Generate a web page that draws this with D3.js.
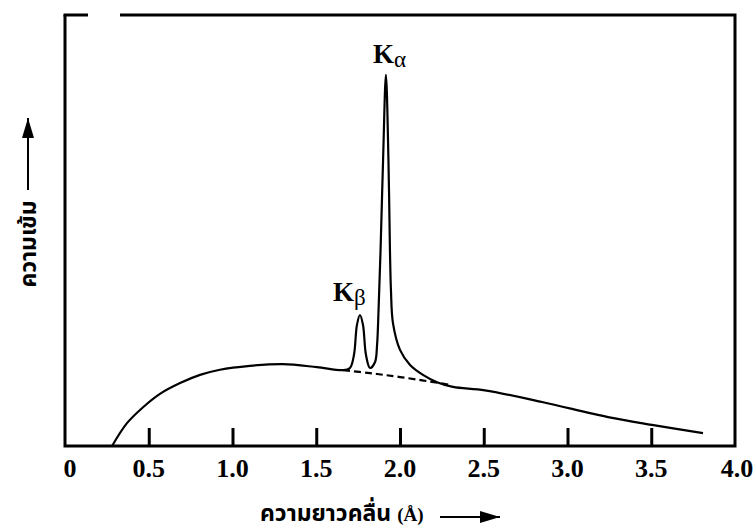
<!DOCTYPE html>
<html>
<head>
<meta charset="utf-8">
<script src="https://cdn.jsdelivr.net/npm/d3@7"></script>
<style>
  body { margin: 0; background: #fff; }
  svg { display: block; }
  .tick-label { font-family: "Liberation Serif", "Times New Roman", serif; font-weight: bold; font-size: 26px; }
  .peak-label { font-family: "Liberation Serif", "Times New Roman", serif; font-weight: bold; }
  .thai { font-family: "Noto Sans Thai", "Loma", "Garuda", "Noto Sans", sans-serif; font-weight: bold; font-size: 23px; }
</style>
</head>
<body>
<svg id="chart" width="755" height="530"></svg>
<script>
// wavelength (Angstrom) and relative intensity
var wavelength = [0.281, 0.370, 0.466, 0.567, 0.687, 0.806, 0.925, 1.104, 1.301, 1.504,
                  1.660, 1.701, 1.725, 1.743, 1.761, 1.779, 1.797, 1.821, 1.851, 1.863,
                  1.872, 1.884, 1.899, 1.916, 1.931, 1.940, 1.946, 1.958, 2.000, 2.060,
                  2.137, 2.221, 2.316, 2.507, 2.848, 3.242, 3.504, 3.809];
var intensity = [0, 5.3, 9.0, 12.1, 14.6, 16.5, 17.7, 18.6, 19.0, 18.3,
                 17.6, 18.1, 21.1, 28.1, 30.4, 28.1, 21.1, 18.1, 19.5, 23.4,
                 31.6, 45.5, 66.4, 86.1, 66.4, 45.5, 36.2, 28.5, 22.3, 18.8,
                 16.5, 14.8, 13.7, 12.9, 10.2, 6.7, 4.9, 3.0];

// continuous background under the peaks (dashed)
var bgWavelength = [1.660, 1.821, 2.000, 2.300];
var bgIntensity = [17.6, 16.9, 16.0, 14.2];

var tickValues = [0, 0.5, 1.0, 1.5, 2.0, 2.5, 3.0, 3.5, 4.0];
var tickLabels = ["0", "0.5", "1.0", "1.5", "2.0", "2.5", "3.0", "3.5", "4.0"];

var peaks = [
  { name: "K", sub: "\u03b1", wl: 1.916, val: 86.1 },
  { name: "K", sub: "\u03b2", wl: 1.761, val: 30.4 }
];

var svg = d3.select("#chart");
var pLeft = 65, pRight = 735, pTop = 15, pBottom = 446;

var x = d3.scaleLinear().domain([0, 4]).range([pLeft, pRight]);
var y = d3.scaleLinear().domain([0, (pBottom - pTop) / 4.31]).range([pBottom, pTop]);

var frame = svg.append("g").attr("stroke", "#000").attr("stroke-width", 3).attr("fill", "none");
frame.append("path").attr("d", "M" + pLeft + "," + pTop + "V" + pBottom + "H" + pRight + "V" + pTop + "H120");
frame.append("path").attr("d", "M" + (pLeft - 1.5) + "," + pTop + "H88");

// inner ticks
var xAxis = d3.axisTop(x).tickValues(tickValues.slice(1, -1)).tickSize(18).tickFormat("");
var ax = svg.append("g").attr("transform", "translate(0," + pBottom + ")").call(xAxis);
ax.select(".domain").remove();
ax.selectAll(".tick line").attr("stroke", "#000").attr("stroke-width", 3);

svg.append("g").selectAll("text").data(tickValues).join("text")
  .attr("class", "tick-label")
  .attr("x", function(d) { return x(d) + (d === 0 ? 5 : d === 4 ? 2 : 0); })
  .attr("y", 477)
  .attr("text-anchor", "middle")
  .text(function(d, i) { return tickLabels[i]; });

var pts = wavelength.map(function(w, i) { return [w, intensity[i]]; });
var line = d3.line()
  .x(function(d) { return x(d[0]); })
  .y(function(d) { return y(d[1]); })
  .curve(d3.curveCatmullRom.alpha(0.5));

svg.append("path").datum(pts)
  .attr("d", line)
  .attr("fill", "none").attr("stroke", "#000").attr("stroke-width", 2.2);

var bg = bgWavelength.map(function(w, i) { return [w, bgIntensity[i]]; });
svg.append("path").datum(bg)
  .attr("d", line)
  .attr("fill", "none").attr("stroke", "#000").attr("stroke-width", 2.2)
  .attr("stroke-dasharray", "7,4");

// peak labels
var pl = svg.append("g").selectAll("text").data(peaks).join("text")
  .attr("class", "peak-label")
  .attr("x", function(d, i) { return x(d.wl) + (i === 0 ? -13 : -27); })
  .attr("y", function(d, i) { return y(d.val) + (i === 0 ? -12 : -14); })
  .attr("font-size", 27);
pl.append("tspan").text(function(d) { return d.name; });
pl.append("tspan").attr("font-size", 23).attr("font-weight", "normal").attr("dy", 4)
  .text(function(d) { return d.sub; });

// axis titles with arrows
var arrowHead = svg.append("defs").append("marker")
  .attr("id", "head").attr("viewBox", "0 0 10 10").attr("refX", 10).attr("refY", 5)
  .attr("markerWidth", 20).attr("markerHeight", 12).attr("markerUnits", "userSpaceOnUse")
  .attr("preserveAspectRatio", "none")
  .attr("orient", "auto");
arrowHead.append("path").attr("d", "M0,0L10,5L0,10Z").attr("fill", "#000");

svg.append("text").attr("class", "thai")
  .attr("transform", "translate(36,244) rotate(-90)")
  .attr("text-anchor", "middle")
  .text("ความเข้ม");
svg.append("path").attr("d", "M28,190V118").attr("stroke", "#000").attr("stroke-width", 2)
  .attr("marker-end", "url(#head)")
  .attr("fill", "none");

var xt = svg.append("text").attr("class", "thai").attr("x", 260).attr("y", 521);
xt.append("tspan").text("ความยาวคลื่น ");
xt.append("tspan").attr("font-family", "Liberation Serif, serif").attr("font-size", 19).text("(\u00c5)");
svg.append("path").attr("d", "M440,517H500").attr("stroke", "#000").attr("stroke-width", 2)
  .attr("marker-end", "url(#head)");
</script>
</body>
</html>
